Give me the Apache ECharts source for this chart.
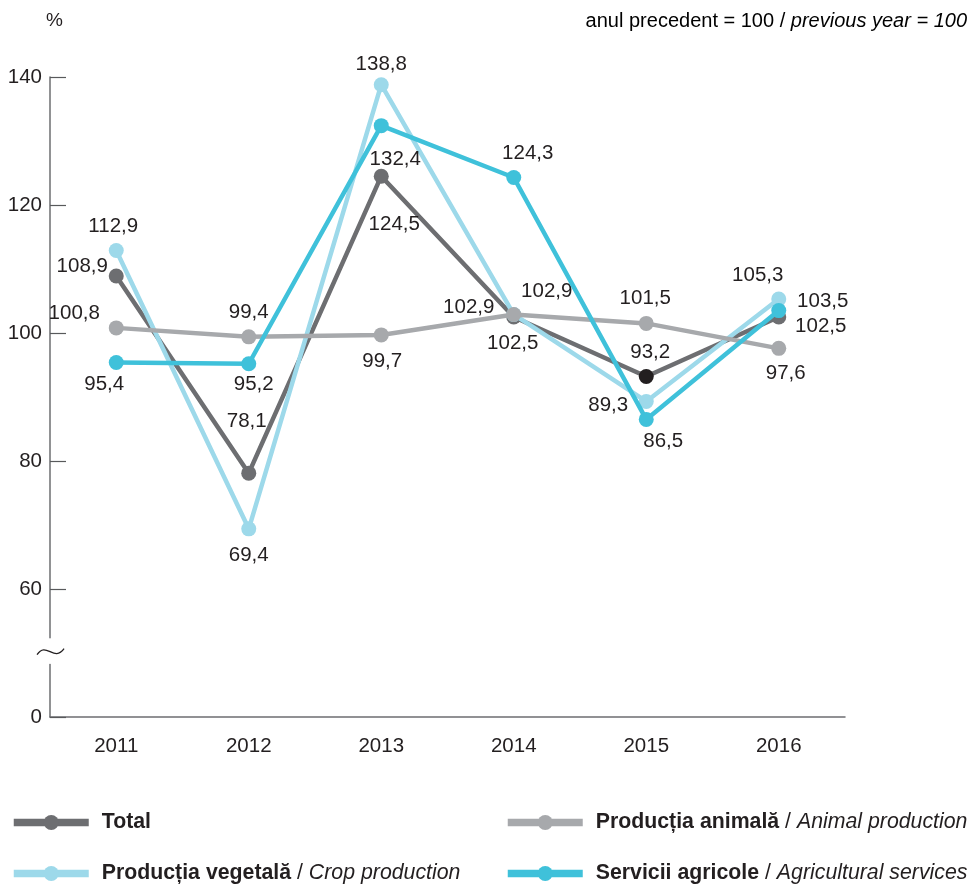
<!DOCTYPE html>
<html>
<head>
<meta charset="utf-8">
<script src="https://cdn.jsdelivr.net/npm/echarts@6/dist/echarts.min.js"></script>
<style>
    html, body { margin: 0; padding: 0; background: #fff; }
    #chart { width: 972px; height: 884px; }
</style>
</head>
<body>
<div id="chart"></div>
<script>
// categories and values
var years = ["2011", "2012", "2013", "2014", "2015", "2016"];
var total = [108.9, 78.1, 124.5, 102.5, 93.2, 102.5];
var animal = [100.8, 99.4, 99.7, 102.9, 101.5, 97.6];
var crop = [112.9, 69.4, 138.8, 102.9, 89.3, 105.3];
var services = [95.4, 95.2, 132.4, 124.3, 86.5, 103.5];
var yTicks = [40, 60, 80, 100, 120, 140];
var yTickLabels = ["0", "60", "80", "100", "120", "140"];

// label offsets (label center relative to the point)
var totalOffsets = [[-34, -10], [-2, -52], [13, 48], [-1, 26], [4, -24], [42, 9]];
var animalOffsets = [[-42, -15], [0, -24], [1, 26], [-45, -7], [-1, -25], [7, 25]];
var cropOffsets = [[-3, -24], [0, 27], [0, -20], [33, -23], [-38, 4], [-21, -24]];
var servicesOffsets = [[-12, 22], [5, 21], [14, 34], [14, -24], [17, 22], [44, -9]];

var FONT = "'Liberation Sans', Arial, sans-serif";
var TEXT = "#231f20";
var FS = 20.5;
var LFS = 21.3;

function fmt(v) {
    return v.toFixed(1).replace(".", ",");
}

function buildData(values, offsets, special) {
    return values.map(function(v, i) {
        var item = {
            value: v,
            label: {
                show: true,
                position: "inside",
                offset: offsets[i],
                formatter: fmt(v),
                color: TEXT,
                fontSize: FS,
                fontFamily: FONT
            }
        };
        if (special && special[i]) {
            item.itemStyle = special[i];
        }
        return item;
    });
}

function makeSeries(name, color, values, offsets, z, special) {
    return {
        name: name,
        type: "line",
        data: buildData(values, offsets, special),
        symbol: "circle",
        symbolSize: 15,
        showAllSymbol: true,
        lineStyle: { color: color, width: 4.5 },
        itemStyle: { color: color },
        z: z,
        animation: false,
        emphasis: { disabled: true }
    };
}

var chart = echarts.init(document.getElementById("chart"));

var legendBase = {
    itemWidth: 75,
    itemHeight: 19,
    selectedMode: false,
    lineStyle: { width: 7.5 },
    textStyle: {
        fontSize: LFS,
        fontFamily: FONT,
        color: TEXT,
        padding: [0, 0, 0, 8],
        rich: {
            b: { fontWeight: "bold", fontSize: LFS, fontFamily: FONT, color: TEXT },
            i: { fontStyle: "italic", fontSize: LFS, fontFamily: FONT, color: TEXT }
        }
    },
    formatter: function(name) {
        var parts = name.split(" / ");
        if (parts.length > 1) {
            return "{b|" + parts[0] + "} / {i|" + parts[1] + "}";
        }
        return "{b|" + name + "}";
    }
};

var names = [
    "Total",
    "Producția animală / Animal production",
    "Producția vegetală / Crop production",
    "Servicii agricole / Agricultural services"
];

var titleTexts = [
    {
        type: "text", left: 46, top: 11,
        style: { text: "%", fontSize: 19, fontFamily: FONT, fill: TEXT }
    },
    {
        type: "text", right: 5, top: 11,
        style: {
            text: "{n|anul precedent = 100 / }{i|previous year = 100}",
            rich: {
                n: { fontSize: 20, fontFamily: FONT, color: TEXT },
                i: { fontSize: 20, fontFamily: FONT, fontStyle: "italic", color: TEXT }
            }
        }
    }
];

chart.setOption({
    backgroundColor: "#fff",
    animation: false,
    grid: { left: 50, right: 127, top: 77, bottom: 167 },
    legend: [
        Object.assign({}, legendBase, { data: [names[0]], left: 5, top: 807 }),
        Object.assign({}, legendBase, { data: [names[2]], left: 5, top: 858 }),
        Object.assign({}, legendBase, { data: [names[1]], left: 499, top: 807 }),
        Object.assign({}, legendBase, { data: [names[3]], left: 499, top: 858 })
    ],
    graphic: titleTexts,
    xAxis: {
        type: "category",
        data: years,
        boundaryGap: true,
        axisLine: { lineStyle: { color: "#6d6e71", width: 1.5 } },
        axisTick: { inside: true, length: 16, lineStyle: { color: "#231f20", width: 1.2 } },
        axisLabel: { margin: 19, fontSize: FS, fontFamily: FONT, color: TEXT }
    },
    yAxis: {
        type: "value",
        min: 40,
        max: 140,
        interval: 20,
        splitLine: { show: false },
        axisLine: { show: true, lineStyle: { color: "#6d6e71", width: 1.5 } },
        axisTick: { show: true, inside: true, length: 16, lineStyle: { color: "#58595b", width: 1.2 } },
        axisLabel: {
            margin: 8,
            fontSize: FS,
            fontFamily: FONT,
            color: TEXT,
            formatter: function(v) {
                var idx = yTicks.indexOf(v);
                return idx >= 0 ? yTickLabels[idx] : "";
            }
        }
    },
    series: [
        makeSeries(names[0], "#6d6e71", total, totalOffsets, 2, { 4: { color: "#231f20" } }),
        makeSeries(names[2], "#9dd9ea", crop, cropOffsets, 3),
        makeSeries(names[1], "#a7a9ac", animal, animalOffsets, 4),
        makeSeries(names[3], "#3fc1da", services, servicesOffsets, 5)
    ]
});

// axis break between 60 and 0
var breakTop = chart.convertToPixel({ yAxisIndex: 0 }, 52.3);
var breakBottom = chart.convertToPixel({ yAxisIndex: 0 }, 48.3);
var breakMid = chart.convertToPixel({ yAxisIndex: 0 }, 50.2);
var axisX = chart.convertToPixel({ xAxisIndex: 0 }, 0) - 66.2;
chart.setOption({
    graphic: titleTexts.concat([
        {
            type: "rect", z: 100,
            shape: { x: axisX - 6, y: breakTop, width: 12, height: breakBottom - breakTop },
            style: { fill: "#fff" }
        },
        {
            type: "bezierCurve", z: 101,
            shape: {
                x1: axisX - 13, y1: breakMid + 3,
                cpx1: axisX - 4, cpy1: breakMid - 11,
                cpx2: axisX + 4, cpy2: breakMid + 11,
                x2: axisX + 14, y2: breakMid - 3
            },
            style: { stroke: "#231f20", lineWidth: 1.3, fill: null }
        }
    ])
});
</script>
</body>
</html>
